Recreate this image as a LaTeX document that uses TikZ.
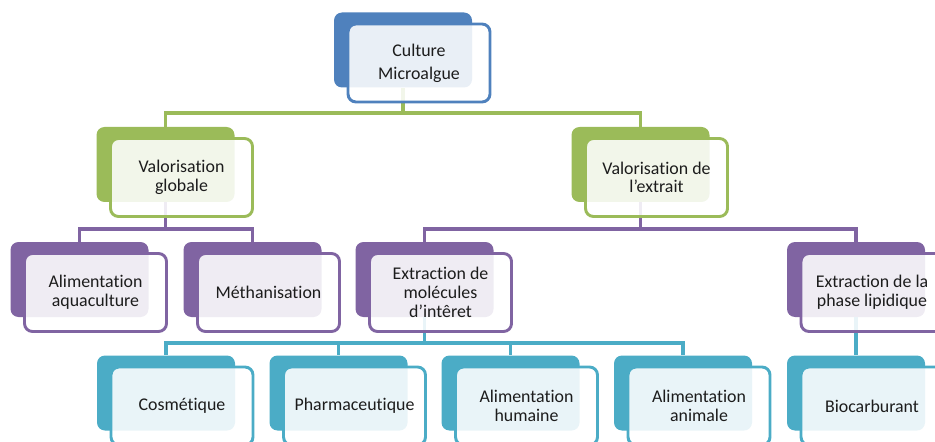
\documentclass[tikz,border=0pt]{standalone}
\usepackage{fontspec}
\setmainfont{Carlito}[Ligatures=NoCommon]
\usetikzlibrary{positioning, calc}
\definecolor{cblue}{HTML}{4F81BD}
\definecolor{cgreen}{HTML}{9BBB59}
\definecolor{cpurple}{HTML}{8064A2}
\definecolor{cteal}{HTML}{4BACC6}
\definecolor{txt}{HTML}{1C1C1C}

\begin{document}
\begin{tikzpicture}[
        x=0.75pt, y=-0.75pt,
        tile/.style={
          rounded corners=6pt, fill=#1, inner sep=0pt,
          minimum width=103.5pt, minimum height=56.25pt
        },
        card/.style={
          rounded corners=6pt, draw=#1, line width=2.2pt, fill=white,
          fill opacity=0.88, text opacity=1, text=txt, align=center,
          minimum width=106.5pt, minimum height=58.5pt, inner sep=0pt,
          font=\fontsize{13.4}{14}\selectfont
        },
        link/.style={
          draw=#1, line width=2.4pt
        },
      ]
        \clip (0,0) rectangle (935,442);

        % back tiles
        \node [tile=cblue] (cultureB) at (403,50) {};
        \node [tile=cgreen] (globaleB) at (165.5,164.5) {};
        \node [tile=cgreen] (extraitB) at (640.5,164.5) {};
        \node [tile=cpurple] (aquaB) at (79.5,279.5) {};
        \node [tile=cpurple] (methaB) at (252.5,279.5) {};
        \node [tile=cpurple] (moleculesB) at (424.5,279.5) {};
        \node [tile=cpurple] (lipideB) at (856,279.5) {};
        \node [tile=cteal] (cosmeB) at (166,393) {};
        \node [tile=cteal] (pharmaB) at (338.5,393) {};
        \node [tile=cteal] (humaineB) at (510.5,393) {};
        \node [tile=cteal] (animaleB) at (683,393) {};
        \node [tile=cteal] (bioB) at (856,393) {};

        % bar levels
        \coordinate (bar1) at (0,113);
        \coordinate (bar2) at (0,229);
        \coordinate (bar3) at (0,343);

        % links
        \draw [link=cgreen] (cultureB.south) -- (cultureB |- bar1) -| (globaleB.north);
        \draw [link=cgreen] (cultureB |- bar1) -| (extraitB.north);
        \draw [link=cpurple] (globaleB.south) -- (globaleB |- bar2) -| (aquaB.north);
        \draw [link=cpurple] (globaleB |- bar2) -| (methaB.north);
        \draw [link=cpurple] (extraitB.south) -- (extraitB |- bar2) -| (moleculesB.north);
        \draw [link=cpurple] (extraitB |- bar2) -| (lipideB.north);
        \draw [link=cteal] (moleculesB.south) -- (moleculesB |- bar3) -| (cosmeB.north);
        \draw [link=cteal] (moleculesB |- bar3) -| (pharmaB.north);
        \draw [link=cteal] (moleculesB |- bar3) -| (humaineB.north);
        \draw [link=cteal] (moleculesB |- bar3) -| (animaleB.north);
        \draw [link=cteal] (lipideB.south) -- (bioB.north);

        % front cards
        \node [card=cblue, font=\fontsize{13.4}{17.2}\selectfont] (culture) at ($(cultureB)+(16,13)$) {Culture\\Microalgue};
        \node [card=cgreen] (globale) at ($(globaleB)+(16,13)$) {Valorisation\\globale};
        \node [card=cgreen] (extrait) at ($(extraitB)+(16,13)$) {Valorisation de\\l’extrait};
        \node [card=cpurple] (aqua) at ($(aquaB)+(16,13)$) {Alimentation\\aquaculture};
        \node [card=cpurple] (metha) at ($(methaB)+(16,13)$) {Méthanisation};
        \node [card=cpurple] (molecules) at ($(moleculesB)+(16,13)$) {Extraction de\\molécules\\d’intêret};
        \node [card=cpurple] (lipide) at ($(lipideB)+(16,13)$) {Extraction de la\\phase lipidique};
        \node [card=cteal] (cosme) at ($(cosmeB)+(16,13)$) {Cosmétique};
        \node [card=cteal] (pharma) at ($(pharmaB)+(16,13)$) {Pharmaceutique};
        \node [card=cteal] (humaine) at ($(humaineB)+(16,13)$) {Alimentation\\humaine};
        \node [card=cteal] (animale) at ($(animaleB)+(16,13)$) {Alimentation\\animale};
        \node [card=cteal] (bio) at ($(bioB)+(16,13)$) {Biocarburant};

      \end{tikzpicture}
\end{document}
